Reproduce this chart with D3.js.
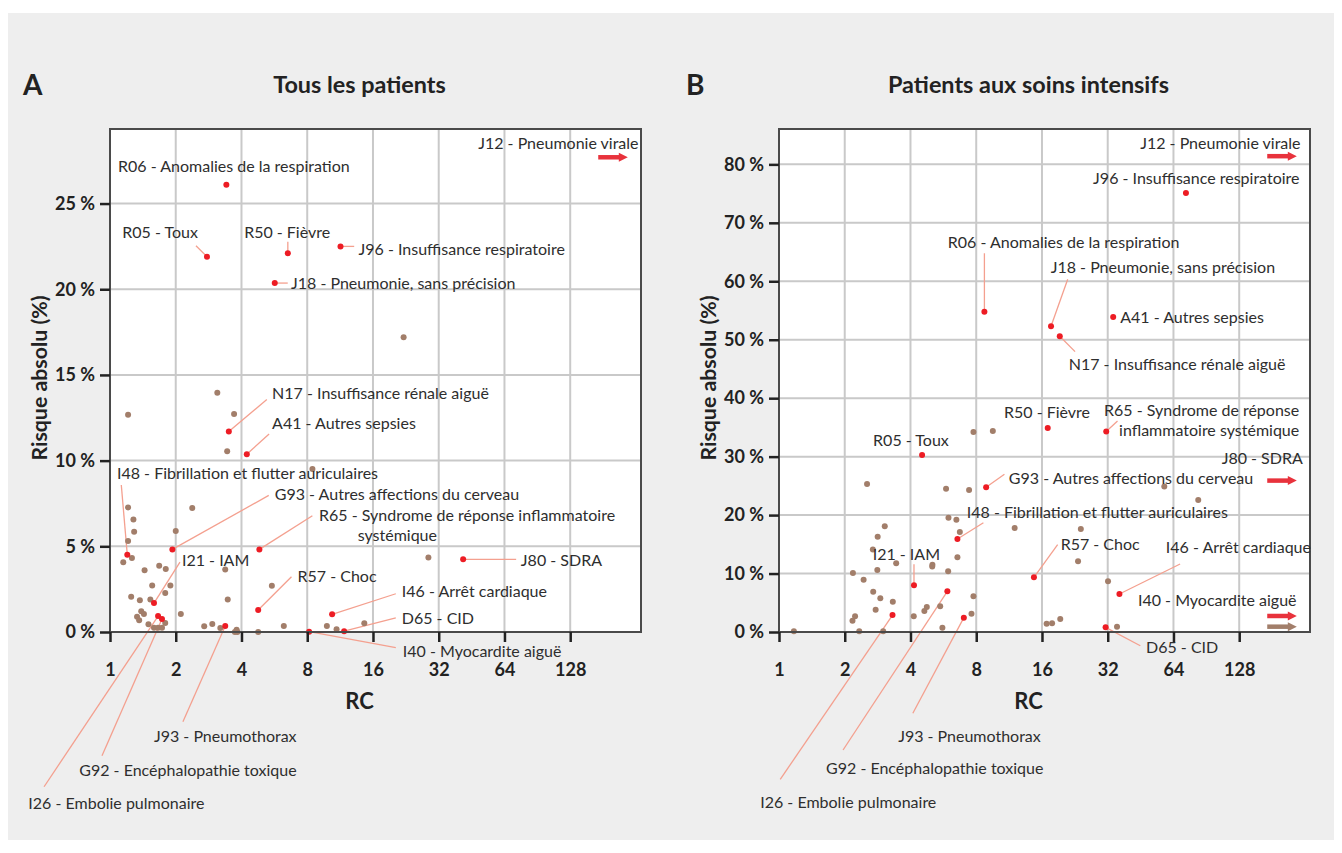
<!DOCTYPE html>
<html><head><meta charset="utf-8">
<script src="https://cdn.jsdelivr.net/npm/d3@7"></script>
<style>
html,body{margin:0;padding:0;background:#fff;}
svg{display:block;font-family:Lato,"Noto Sans",sans-serif;}
</style></head><body>
<svg id="c" width="1342" height="853"></svg>
<script>
// ---------------- DATA ----------------
const xTicks = [1, 2, 4, 8, 16, 32, 64, 128];
const yTicksA = [0, 5, 10, 15, 20, 25];
const yTicksB = [0, 10, 20, 30, 40, 50, 60, 70, 80];

// Panel A – labelled (red) codes
const codesA = ["R06","R05","R50","J96","J18","N17","A41","I48","G93","R65","I21","R57","I46","D65","I40","J80","J93","G92","I26"];
const namesA = ["R06 - Anomalies de la respiration","R05 - Toux","R50 - Fièvre","J96 - Insuffisance respiratoire","J18 - Pneumonie, sans précision","N17 - Insuffisance rénale aiguë","A41 - Autres sepsies","I48 - Fibrillation et flutter auriculaires","G93 - Autres affections du cerveau","R65 - Syndrome de réponse inflammatoire|systémique","I21 - IAM","R57 - Choc","I46 - Arrêt cardiaque","D65 - CID","I40 - Myocardite aiguë","J80 - SDRA","J93 - Pneumothorax","G92 - Encéphalopathie toxique","I26 - Embolie pulmonaire"];
const rcA   = [3.41,2.78,6.52,11.36,5.68,3.5,4.23,1.2,1.93,4.83,1.59,4.77,10.4,11.8,8.16,41.4,3.37,1.73,1.66];
const riskA = [26.1,21.9,22.1,22.5,20.36,11.7,10.37,4.51,4.82,4.82,1.69,1.28,1.03,0.05,0.02,4.24,0.35,0.76,0.93];

// Panel A – other codes (brown)
const otherRcA   = [22.1,3.10,1.21,3.70,3.44,8.45,1.21,2.38,1.28,1.29,2.0,1.21,1.15,1.26,1.44,1.68,1.80,3.37,1.56,1.89,5.51,1.25,1.37,1.53,1.79,3.46,1.39,1.43,1.33,1.36,2.11,1.50,1.59,1.66,1.73,1.79,2.70,2.94,3.2,3.73,3.8,3.83,4.77,6.25,9.84,10.9,14.6,28.7];
const otherRiskA = [17.2,13.96,12.68,12.72,10.54,9.51,7.27,7.23,6.57,5.85,5.89,5.31,4.07,4.32,3.6,3.87,3.68,3.64,2.72,2.72,2.7,2.06,1.85,1.89,2.28,1.89,1.21,1.05,0.89,0.68,1.05,0.45,0.25,0.25,0.25,0.53,0.33,0.47,0.23,0,0.13,0,0,0.35,0.35,0.16,0.51,4.34];

// Panel A – off-scale (RC beyond axis)
const offNamesA = ["J12 - Pneumonie virale"];
const offRiskA  = [27.7];
const offRedA   = [true];

// Panel B – labelled (red) codes
const codesB = ["J96","R06","J18","A41","N17","R50","R65","R05","G93","I48","R57","I46","I21","D65","J93","G92","I26"];
const namesB = ["J96 - Insuffisance respiratoire","R06 - Anomalies de la respiration","J18 - Pneumonie, sans précision","A41 - Autres sepsies","N17 - Insuffisance rénale aiguë","R50 - Fièvre","R65 - Syndrome de réponse|inflammatoire systémique","R05 - Toux","G93 - Autres affections du cerveau","I48 - Fibrillation et flutter auriculaires","R57 - Choc","I46 - Arrêt cardiaque","I21 - IAM","D65 - CID","J93 - Pneumothorax","G92 - Encéphalopathie toxique","I26 - Embolie pulmonaire"];
const rcB   = [73,8.72,17.6,33.9,19.3,17.0,31.5,4.52,8.88,6.56,14.7,36.2,4.15,31.3,7.02,5.9,3.31];
const riskB = [75.1,54.8,52.3,53.9,50.6,34.9,34.3,30.3,24.75,15.9,9.36,6.5,7.98,0.8,2.45,6.96,2.9];

// Panel B – other codes (brown)
const otherRcB   = [58.1,83.1,12.0,24.1,23.4,32.1,16.8,17.8,19.4,35.3,7.77,9.53,2.53,5.82,7.42,5.97,6.49,3.05,2.83,6.73,2.69,3.44,5.04,5.03,6.56,2.82,5.95,2.18,2.44,2.70,7.77,2.91,3.32,2.77,5.47,4.75,4.63,7.61,2.23,2.17,4.14,5.6,2.33,3.0,1.17];
const otherRiskB = [24.9,22.6,17.8,17.6,12.1,8.67,1.42,1.48,2.22,0.91,34.2,34.4,25.3,24.5,24.3,19.55,19.2,18.1,16.3,17.1,14.1,11.75,11.5,11.2,12.8,10.6,10.4,10.1,8.95,6.9,6.1,5.76,5.19,3.81,4.39,4.28,3.59,3.13,2.68,1.94,2.68,0.74,0.11,0.11,0.11];

// Panel B – off-scale
const offNamesB = ["J12 - Pneumonie virale","J80 - SDRA","I40 - Myocardite aiguë",""];
const offRiskB  = [81.4,25.9,2.74,0.91];
const offRedB   = [true,true,true,false];

// ---------------- LAYOUT (label offsets, px relative to point) ----------------
const layoutA = {
  R06:{dx:-108.3,dy:-18}, R05:{dx:-84.7,dy:-24.3,l:[-11,-11]}, R50:{dx:-43.7,dy:-21.3,l:[0,-11.6]},
  J96:{dx:18,dy:2.7,l:[13.7,0]}, J18:{dx:16.3,dy:0.3,l:[13,0]}, N17:{dx:43.3,dy:-38,l:[38,-32]},
  A41:{dx:25.3,dy:-31,l:[22.3,-20.3]}, I48:{dx:-10.3,dy:-81,l:[-6,-69.7]}, G93:{dx:102.4,dy:-54.6,l:[96.4,-54]},
  R65:{dx:59.7,dy:-33.6,l:[53,-33.6],gap:19.5,indent:true}, I21:{dx:28,dy:-43,l:[26,-41]}, R57:{dx:39.3,dy:-33.3,l:[33.3,-33.3]},
  I46:{dx:69.7,dy:-22.6,l:[63.7,-20.6]}, D65:{dx:57.7,dy:-12.7,l:[51.7,-13.3]}, I40:{dx:93.7,dy:19.7,l:[86.7,16]},
  J80:{dx:57.7,dy:0.7,l:[53,0]}, J93:{dx:-71.3,dy:110.7,l:[-42.3,95.7]}, G92:{dx:-82.7,dy:151.7,l:[-60,136.7]},
  I26:{dx:-129.7,dy:187.3,l:[-114,170.7]}
};
const offLayoutA = [{dx:10.7,dy:-14}];
const layoutB = {
  J96:{dx:113.6,dy:-15,end:true}, R06:{dx:-36.6,dy:-69.7,l:[0,-58.4]}, J18:{dx:-0.3,dy:-58.6,l:[16.7,-47]},
  A41:{dx:7,dy:0.6}, N17:{dx:9,dy:27.7,l:[15.3,15.4]}, R50:{dx:-43.7,dy:-15.7},
  R65:{dx:193,dy:-21,end:true,l:[11.3,-10.4],gap:19.5}, R05:{dx:-49,dy:-14.7}, G93:{dx:22.7,dy:-8.6,l:[18.3,-13]},
  I48:{dx:9.4,dy:-26.3,l:[26,-16.3]}, R57:{dx:26.7,dy:-32.6,l:[23.7,-32.6]}, I46:{dx:46.4,dy:-46.3,l:[60.7,-30]},
  I21:{dx:-41.3,dy:-31.3,l:[0,-21]}, D65:{dx:40.4,dy:20.4,l:[34.7,18.4]}, J93:{dx:-65.7,dy:118.3,l:[-51,95.6]},
  G92:{dx:-121.3,dy:177.4,l:[-104.3,158.7]}, I26:{dx:-132.3,dy:187,l:[-112.3,164.3]}
};
const offLayoutB = [{dx:3.7,dy:-12.7},{dx:6,dy:-22.4},{dx:-0.3,dy:-15.7},null];

const XMAX = 270;
const ARROW_RC = [172, 235];
const RED = "#ed1c24", BROWN = "#a27e6a", LEAD = "#f4a08f", GRID = "#c9c9c9", TXT = "#2e2e2e";
const LBL = 16;

// ---------------- DRAW ----------------
const svg = d3.select("#c");
svg.append("rect").attr("x",8).attr("y",13).attr("width",1326).attr("height",827).attr("fill","#eeeeee");

function panel(p){
  const top = 129, bottom = 632;
  const x = d3.scaleLog().base(2).domain([1, XMAX]).range([p.left, p.right]);
  const y = d3.scaleLinear().domain([0, p.yMax]).range([bottom, top]);
  const g = svg.append("g");

  g.append("rect").attr("x",p.left).attr("y",top).attr("width",p.right-p.left).attr("height",bottom-top).attr("fill","#fff");

  g.selectAll(".vg").data(xTicks.slice(1)).join("line")
    .attr("x1",d=>x(d)).attr("x2",d=>x(d)).attr("y1",top).attr("y2",bottom)
    .attr("stroke",GRID).attr("stroke-width",2);
  g.selectAll(".hg").data(p.yTicks.slice(1)).join("line")
    .attr("x1",p.left).attr("x2",p.right).attr("y1",d=>y(d)).attr("y2",d=>y(d))
    .attr("stroke",GRID).attr("stroke-width",2);

  const pts = p.codes.map((c,i)=>({code:c, name:p.names[i], px:x(p.rc[i]), py:y(p.risk[i]), lay:p.layout[c]}));

  // leader lines
  g.selectAll(".lead").data(pts.filter(d=>d.lay && d.lay.l)).join("line")
    .attr("x1",d=>d.px).attr("y1",d=>d.py)
    .attr("x2",d=>d.px+d.lay.l[0]).attr("y2",d=>d.py+d.lay.l[1])
    .attr("stroke",LEAD).attr("stroke-width",1.3);

  // other points
  g.selectAll(".ob").data(p.orc.map((v,i)=>[v,p.orisk[i]])).join("circle")
    .attr("cx",d=>x(d[0])).attr("cy",d=>y(d[1])).attr("r",3).attr("fill",BROWN);
  // red points
  g.selectAll(".rp").data(pts).join("circle")
    .attr("cx",d=>d.px).attr("cy",d=>d.py).attr("r",3).attr("fill",RED);

  // off-scale arrows
  const x0 = x(ARROW_RC[0]), x1 = x(ARROW_RC[1]);
  p.offRisk.forEach((r,i)=>{
    const yy = y(r), col = p.offRed[i] ? "#e8323c" : BROWN;
    g.append("line").attr("x1",x0).attr("x2",x1-7).attr("y1",yy).attr("y2",yy)
      .attr("stroke",col).attr("stroke-width",4.5);
    g.append("path").attr("d",`M${x1},${yy}L${x1-9},${yy-4.5}L${x1-9},${yy+4.5}Z`).attr("fill",col);
    const L = p.offLayout[i];
    if (L && p.offNames[i]) {
      g.append("text").attr("x",x1+L.dx).attr("y",yy+L.dy).attr("dy","0.35em")
        .attr("text-anchor","end").attr("font-size",LBL).attr("fill",TXT).text(p.offNames[i]);
    }
  });

  // frame
  g.append("rect").attr("x",p.left).attr("y",top).attr("width",p.right-p.left).attr("height",bottom-top)
    .attr("fill","none").attr("stroke","#4a4a4a").attr("stroke-width",2);

  // axes
  const ax = g.append("g").attr("transform",`translate(0,${bottom})`)
    .call(d3.axisBottom(x).tickValues(xTicks).tickSize(10).tickPadding(21).tickFormat(d3.format("d")));
  const ay = g.append("g").attr("transform",`translate(${p.left},0)`)
    .call(d3.axisLeft(y).tickValues(p.yTicks).tickSize(10).tickPadding(5).tickFormat(d=>d+" %"));
  [ax,ay].forEach(a=>{
    a.select(".domain").remove();
    a.selectAll(".tick line").attr("stroke","#222").attr("stroke-width",2.5);
    a.selectAll(".tick text").attr("font-size",18).attr("font-weight","bold").attr("fill","#222")
      .attr("font-family",'Lato,"Noto Sans",sans-serif');
  });

  // point labels (multi-line labels as one text with tspans)
  pts.forEach(d=>{
    const L = d.lay; if(!L) return;
    const parts = d.name.split("|");
    const bx = d.px+L.dx, by = d.py+L.dy;
    const t = g.append("text").attr("x",bx).attr("y",by)
      .attr("font-size",LBL).attr("fill",TXT).attr("text-anchor",L.end?"end":"start");
    t.append("tspan").attr("x",bx).attr("y",by).attr("dy","0.35em").text(parts[0]);
    if (parts.length>1){
      let xx = bx;
      if (L.indent){
        const tmp = g.append("text").attr("font-size",LBL).text(parts[0].split(" - ")[0]+" - ");
        xx += tmp.node().getComputedTextLength(); tmp.remove();
      }
      t.append("tspan").attr("x",xx).attr("y",by+L.gap).attr("dy","0.35em").text(parts[1]);
    }
  });

  // titles & axis labels
  const cx = (p.left+p.right)/2 - 16;
  svg.append("text").attr("x",p.letterX).attr("y",95).attr("font-size",28).attr("font-weight","bold").attr("fill","#222").text(p.letter);
  svg.append("text").attr("x",cx).attr("y",85).attr("dy","0.35em").attr("text-anchor","middle")
    .attr("font-size",23.4).attr("font-weight","bold").attr("fill","#222").text(p.title);
  svg.append("text").attr("x",cx).attr("y",701).attr("dy","0.35em").attr("text-anchor","middle")
    .attr("font-size",22).attr("font-weight","bold").attr("fill","#222").text("RC");
  svg.append("text").attr("transform",`translate(${p.left-70},378) rotate(-90)`).attr("dy","0.35em")
    .attr("text-anchor","middle").attr("font-size",21.3).attr("font-weight","bold").attr("fill","#222")
    .text("Risque absolu (%)");
}

panel({left:110,right:641,yMax:29.35,yTicks:yTicksA,codes:codesA,names:namesA,rc:rcA,risk:riskA,
  orc:otherRcA,orisk:otherRiskA,offRisk:offRiskA,offNames:offNamesA,offRed:offRedA,offLayout:offLayoutA,
  layout:layoutA,letter:"A",letterX:23,title:"Tous les patients"});
panel({left:779,right:1310,yMax:86.05,yTicks:yTicksB,codes:codesB,names:namesB,rc:rcB,risk:riskB,
  orc:otherRcB,orisk:otherRiskB,offRisk:offRiskB,offNames:offNamesB,offRed:offRedB,offLayout:offLayoutB,
  layout:layoutB,letter:"B",letterX:686,title:"Patients aux soins intensifs"});
</script>
</body></html>
